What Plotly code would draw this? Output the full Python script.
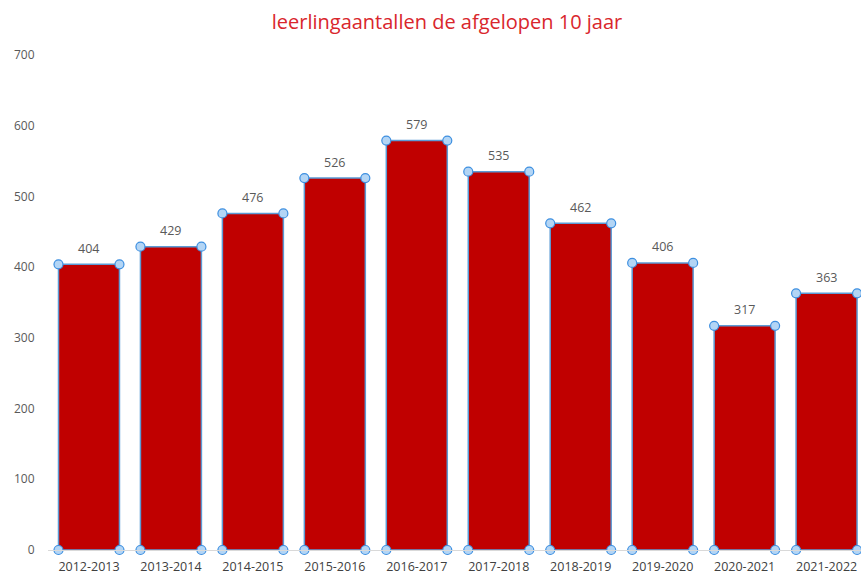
import plotly.graph_objects as go

years = ["2012-2013", "2013-2014", "2014-2015", "2015-2016", "2016-2017",
         "2017-2018", "2018-2019", "2019-2020", "2020-2021", "2021-2022"]
counts = [404, 429, 476, 526, 579, 535, 462, 406, 317, 363]
y_ticks = [0, 100, 200, 300, 400, 500, 600, 700]

idx = list(range(len(years)))
bar_w = 0.744
half = bar_w / 2

W, H = 861, 574

fig = go.Figure()
fig.add_trace(go.Bar(
    x=idx, y=counts, width=bar_w,
    marker=dict(color="#C00000", line=dict(color="#5B9BD5", width=1.5)),
    hoverinfo="skip", showlegend=False,
))

# selection handles at bar corners
hx, hy = [], []
for i, v in zip(idx, counts):
    hx += [i - half, i + half, i - half, i + half]
    hy += [v, v, 0, 0]
fig.add_trace(go.Scatter(
    x=hx, y=hy, mode="markers",
    marker=dict(symbol="circle", size=9, color="#B3D5F5",
                line=dict(color="#3D8FE0", width=1.2)),
    hoverinfo="skip", showlegend=False, cliponaxis=False,
))

for i, v in zip(idx, counts):
    fig.add_annotation(x=i, y=v, text=str(v), showarrow=False, yshift=16,
                       font=dict(family="Open Sans", size=12.5, color="#595959"))

fig.update_layout(
    width=W, height=H,
    margin=dict(l=47.5, r=0, t=55, b=24),
    paper_bgcolor="white", plot_bgcolor="white",
    title=dict(text="leerlingaantallen de afgelopen 10 jaar",
               x=447 / W, xref="container", xanchor="center",
               y=1 - 22 / H, yref="container", yanchor="middle",
               font=dict(family="Open Sans", size=20, color="#D9262C")),
    xaxis=dict(range=[-0.5, 9.42], tickvals=idx, ticktext=years,
               showgrid=False, zeroline=False, showline=True,
               linecolor="#D9D9D9", linewidth=1, ticks="outside", ticklen=5,
               tickcolor="rgba(0,0,0,0)",
               tickfont=dict(family="Open Sans", size=12.5, color="#404040"),
               automargin=False),
    yaxis=dict(range=[0, 700], tickvals=y_ticks, showgrid=False,
               zeroline=False, showline=False, ticks="outside", ticklen=10,
               tickcolor="rgba(0,0,0,0)",
               tickfont=dict(family="Open Sans", size=12, color="#595959"),
               automargin=False),
)

fig.write_html(
    "out.html",
    config={"displayModeBar": False},
    post_script="document.body.style.margin='0';document.body.style.overflow='hidden';",
)
